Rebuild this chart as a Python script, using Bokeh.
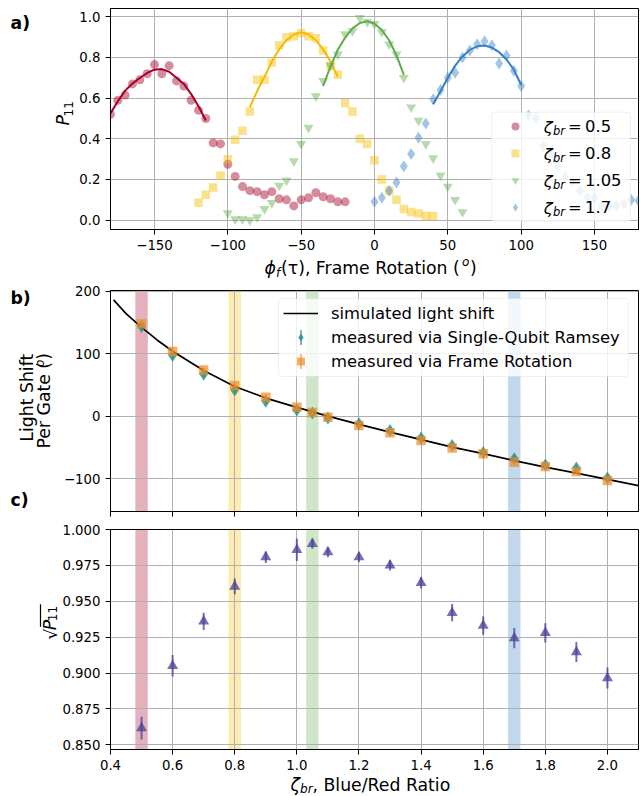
from math import pi

from bokeh.plotting import figure
from bokeh.layouts import column, row
from bokeh.models import (ColumnDataSource, Range1d, FixedTicker, NumeralTickFormatter,
                          Label, BoxAnnotation, Legend, LegendItem)
from bokeh.core.properties import value
from bokeh.embed import file_html
from bokeh.resources import INLINE

FONT = "DejaVu Sans"
RED, YELLOW, GREEN, BLUE = "#a50026", "#f4bc00", "#5fad4a", "#3580c4"
TEAL, ORANGE, SLATE = "#21908c", "#ef8a24", "#4a3f9b"

# ---------------- (a) P11 versus frame rotation ----------------
red_phi = [-180, -175, -170, -165, -160, -155, -150, -145, -140, -135, -130, -125, -120,
           -115, -110, -105, -100, -95, -90, -85, -80, -75, -70, -65, -60, -55, -50,
           -45, -40, -35, -30, -25, -20]
red_p = [0.52, 0.59, 0.615, 0.67, 0.69, 0.72, 0.765, 0.72, 0.76, 0.685, 0.66, 0.59, 0.54,
         0.50, 0.38, 0.375, 0.275, 0.215, 0.165, 0.145, 0.14, 0.125, 0.14, 0.105, 0.10,
         0.07, 0.10, 0.11, 0.135, 0.115, 0.105, 0.09, 0.09]

yellow_phi = [-120, -115, -110, -105, -100, -95, -90, -85, -80, -75, -70, -65, -60, -55,
              -50, -45, -40, -35, -30, -25, -20, -15, -10, -5, 0, 5, 10, 15, 20, 25, 30,
              35, 40]
yellow_p = [0.085, 0.125, 0.16, 0.22, 0.30, 0.395, 0.44, 0.535, 0.69, 0.69, 0.775, 0.86,
            0.90, 0.905, 0.92, 0.905, 0.895, 0.835, 0.76, 0.715, 0.575, 0.535, 0.40, 0.375,
            0.295, 0.20, 0.145, 0.10, 0.055, 0.04, 0.033, 0.02, 0.02]

green_phi = [-100, -95, -90, -85, -80, -75, -70, -65, -60, -55, -50, -45, -40, -35, -30,
             -25, -20, -15, -10, -5, 0, 5, 10, 15, 20, 25, 30, 35, 40, 45, 50, 55, 60]
green_p = [0.035, 0.005, 0.005, 0.0, 0.015, 0.055, 0.085, 0.17, 0.195, 0.29, 0.375, 0.455,
           0.61, 0.685, 0.76, 0.815, 0.915, 0.93, 0.995, 0.975, 0.965, 0.925, 0.865, 0.815,
           0.70, 0.555, 0.49, 0.375, 0.305, 0.22, 0.165, 0.10, 0.04]

blue_phi = [0, 5, 10, 15, 20, 25, 30, 35, 40, 45, 50, 55, 60, 65, 70, 75, 80, 85, 90, 95,
            100, 105, 110, 115, 120, 125, 130, 135, 140, 145, 150, 155, 160, 165, 170, 175,
            180]
blue_p = [0.09, 0.11, 0.145, 0.185, 0.265, 0.325, 0.405, 0.475, 0.595, 0.64, 0.70, 0.725,
          0.80, 0.835, 0.865, 0.88, 0.86, 0.77, 0.81, 0.735, 0.66, 0.515, 0.50, 0.365, 0.33,
          0.265, 0.215, 0.19, 0.145, 0.11, 0.11, 0.07, 0.07, 0.07, 0.08, 0.10, 0.095]

# fitted peaks around each maximum
red_fit_phi = [-180, -175, -170, -165, -160, -155, -150, -145, -140, -135, -130, -125, -120, -115]
red_fit_p = [0.525, 0.585, 0.637, 0.672, 0.699, 0.724, 0.740, 0.743, 0.73, 0.70, 0.67, 0.62,
             0.56, 0.49]
yellow_fit_phi = [-85, -80, -75, -70, -65, -60, -55, -50, -45, -40, -35, -30, -25]
yellow_fit_p = [0.555, 0.635, 0.705, 0.78, 0.84, 0.885, 0.913, 0.924, 0.913, 0.885, 0.84,
                0.78, 0.705]
green_fit_phi = [-35, -30, -25, -20, -15, -10, -5, 0, 5, 10, 15, 20]
green_fit_p = [0.66, 0.756, 0.838, 0.898, 0.943, 0.970, 0.978, 0.966, 0.935, 0.885, 0.81, 0.715]
blue_fit_phi = [40, 45, 50, 55, 60, 65, 70, 75, 80, 85, 90, 95, 100]
blue_fit_p = [0.57, 0.634, 0.70, 0.76, 0.805, 0.837, 0.855, 0.859, 0.849, 0.826, 0.79, 0.74,
              0.665]

series_labels = ["0.5", "0.8", "1.05", "1.7"]

# ---------------- (b) light shift per gate ----------------
ratio = [0.5, 0.6, 0.7, 0.8, 0.9, 1.0, 1.05, 1.1, 1.2, 1.3, 1.4, 1.5, 1.6, 1.7, 1.8, 1.9, 2.0]
ramsey_shift = [143.5, 97, 67, 42, 24, 10, 5, -3, -12, -23, -35, -47, -58, -68, -78, -83, -99]
ramsey_err = [6, 5, 5, 5, 5, 5, 5, 5, 6, 5, 5, 5, 5, 6, 5, 5, 6]
frame_shift = [148, 103.5, 74, 49, 30.5, 14.5, 6, -1.5, -15, -26.5, -39, -51, -60, -73.5,
               -80.5, -88.5, -103]
frame_err = [5, 4, 4, 4, 4, 4, 4, 4, 4, 4, 4, 4, 4, 4, 4, 4, 4]

sim_ratio = [0.41, 0.45, 0.5, 0.55, 0.6, 0.7, 0.8, 0.9, 1.0, 1.1, 1.2, 1.3, 1.4, 1.5, 1.6,
             1.7, 1.8, 1.9, 2.0, 2.1]
sim_shift = [186, 164, 142, 122, 104, 73, 47.5, 29, 14, 0, -13, -25.5, -37.5, -49.5, -60,
             -71, -81.5, -91, -101, -111]

# ---------------- (c) sqrt(P11) fidelity ----------------
sqrt_p11 = [0.8616, 0.905, 0.936, 0.9603, 0.9807, 0.9859, 0.990, 0.9842, 0.9807, 0.975,
            0.9629, 0.942, 0.9331, 0.9243, 0.928, 0.9146, 0.8965]
sqrt_err = [0.0079, 0.0075, 0.006, 0.0055, 0.004, 0.0078, 0.0035, 0.0035, 0.0035, 0.0035,
            0.004, 0.006, 0.0064, 0.007, 0.0067, 0.007, 0.0073]

# highlighted ratios (same colours as panel a)
band_ratio = [0.5, 0.8, 1.05, 1.7]
band_color = [RED, YELLOW, GREEN, BLUE]
BAND_HALF = 0.02


def make_fig(left, frame_h, top, bottom, xr, yr, xticks, yticks):
    p = figure(frame_width=528, frame_height=frame_h, min_border_left=left,
               min_border_right=6, min_border_top=top, min_border_bottom=bottom,
               x_range=xr, y_range=yr, toolbar_location=None, output_backend="svg",
               title=None)
    p.outline_line_color = "black"
    p.outline_line_width = 1
    p.outline_line_alpha = 1
    p.background_fill_color = "white"
    p.border_fill_color = "white"
    p.xaxis.ticker = FixedTicker(ticks=xticks, minor_ticks=[])
    p.yaxis.ticker = FixedTicker(ticks=yticks, minor_ticks=[])
    for ax in p.axis:
        ax.major_tick_in = 0
        ax.major_tick_out = 5
        ax.minor_tick_in = 0
        ax.minor_tick_out = 0
        ax.axis_line_color = "black"
        ax.major_tick_line_color = "black"
        ax.major_label_text_font = FONT
        ax.major_label_text_font_size = "13.3px"
        ax.major_label_text_color = "black"
        ax.major_label_standoff = 5
    p.grid.grid_line_color = "#b0b0b0"
    p.grid.grid_line_width = 1
    return p


def text_canvas(x0, y0, w, h):
    """A bare canvas whose data coordinates are page pixels (y downwards)."""
    t = figure(width=w, height=h, min_border=0, min_border_left=0, min_border_right=0,
               min_border_top=0, min_border_bottom=0, x_range=Range1d(x0, x0 + w),
               y_range=Range1d(y0 + h, y0), x_axis_type=None, y_axis_type=None,
               toolbar_location=None, output_backend="svg", title=None)
    t.outline_line_color = None
    t.background_fill_color = "white"
    t.border_fill_color = "white"
    return t


# Text pieces are anchored at the vertical middle of their glyphs.
def put(p, X, Y, s, size, style="normal", angle=0.0, align="left"):
    p.add_layout(Label(x=X, y=Y, text=s, text_font=FONT, text_font_size=f"{size}px",
                       text_font_style=style, text_color="black", angle=angle,
                       text_align=align, text_baseline="alphabetic"))


def put_screen(p, frame, X, Y, s, size, style="normal"):
    left, bottom = frame
    p.add_layout(Label(x=X - left, y=bottom - Y, x_units="screen", y_units="screen",
                       text=s, text_font=FONT, text_font_size=f"{size}px",
                       text_font_style=style, text_color="black",
                       text_baseline="alphabetic", level="overlay"))


def screen_box(p, frame, l, r, t, b, **kw):
    left, bottom = frame
    p.add_layout(BoxAnnotation(left=l - left, right=r - left, top=bottom - t,
                               bottom=bottom - b, left_units="screen", right_units="screen",
                               top_units="screen", bottom_units="screen", **kw))


def bands(p):
    for r, c in zip(band_ratio, band_color):
        p.add_layout(BoxAnnotation(left=r - BAND_HALF, right=r + BAND_HALF, fill_color=c,
                                   fill_alpha=0.3, line_alpha=0, level="image"))


LBL = 17.3   # axis label size
SUB = 12.1   # sub/superscript size

# ================= panel a =================
FA = (110, 229)
pa = make_fig(34, 221, 8, 27, Range1d(-180, 180), Range1d(-0.046, 1.041),
              [-150, -100, -50, 0, 50, 100, 150], [0, 0.2, 0.4, 0.6, 0.8, 1.0])
pa.xaxis.major_label_overrides = {-150: "\u2212150", -100: "\u2212100", -50: "\u221250"}
pa.yaxis.formatter = NumeralTickFormatter(format="0.0")

scatter_renderers = []
for phi, pv, fphi, fp, color, marker, size in [
        (red_phi, red_p, red_fit_phi, red_fit_p, RED, "circle", 9),
        (yellow_phi, yellow_p, yellow_fit_phi, yellow_fit_p, YELLOW, "square", 8.5),
        (green_phi, green_p, green_fit_phi, green_fit_p, GREEN, "inverted_triangle", 10),
        (blue_phi, blue_p, blue_fit_phi, blue_fit_p, BLUE, "diamond", 12)]:
    src = ColumnDataSource(dict(phi=phi, p=pv))
    r = pa.scatter("phi", "p", source=src, marker=marker, size=size, fill_color=color,
                   fill_alpha=0.45, line_color=None)
    scatter_renderers.append(r)
    pa.line(fphi, fp, line_color=color, line_width=2)

# legend frame, then keys/labels, then the zeta_br prefix on top
screen_box(pa, FA, 491, 630, 111.7, 220.7, fill_color="white", fill_alpha=0.8,
           line_color="#cccccc", line_width=1, border_radius=3, level="annotation")
leg_a = Legend(items=[LegendItem(label=value("=\u2009" + lab), renderers=[r])
                      for lab, r in zip(series_labels, scatter_renderers)],
               location=(381, 8), margin=0, padding=4, spacing=7, glyph_width=40,
               glyph_height=20, label_height=20, label_width=58, label_standoff=33,
               background_fill_alpha=0, border_line_alpha=0, label_text_font=FONT,
               label_text_font_size="16.4px", label_text_color="black")
pa.add_layout(leg_a)
for i in range(len(series_labels)):
    mid = 111.7 + 4 + 10 + 27 * i
    put_screen(pa, FA, 543.3, mid + 1, "\u03b6", 16.4, "italic")
    put_screen(pa, FA, 552.4, mid + 5, "br", 11.5, "italic")

# side text: panel tag and y label
ta = text_canvas(0, 0, 76, 256)
put(ta, 10, 17, "a)", LBL, "bold")
put(ta, 62.3, 135.5, "P", LBL, "italic", pi / 2)
put(ta, 67.8, 125.0, "11", SUB, "normal", pi / 2)

# x label under panel a
tax = text_canvas(0, 256, 644, 29)
XA = 267
put(tax, 264, XA, "\u03d5", LBL, "italic")
put(tax, 275.5, XA + 5.4, "f", SUB, "italic")
put(tax, 280.5, XA, "(\u03c4), Frame Rotation (", LBL)
put(tax, 461.5, XA - 5.2, "o", SUB, "italic")
put(tax, 469.6, XA, ")", LBL)

# ================= panel b =================
FB = (110, 511)
pb = make_fig(50, 221, 5, 12, Range1d(0.4, 2.1), Range1d(-152.5, 201.1),
              [0.4, 0.6, 0.8, 1.0, 1.2, 1.4, 1.6, 1.8, 2.0], [-100, 0, 100, 200])
pb.yaxis.major_label_overrides = {-100: "\u2212100"}
pb.xaxis.major_label_text_font_size = "1px"
pb.xaxis.major_label_text_color = None
pb.xaxis.major_label_standoff = 0
bands(pb)

sim_src = ColumnDataSource(dict(r=sim_ratio, s=sim_shift))
r_sim = pb.line("r", "s", source=sim_src, line_color="black", line_width=1.7)

ram_src = ColumnDataSource(dict(r=ratio, s=ramsey_shift,
                                lo=[v - e for v, e in zip(ramsey_shift, ramsey_err)],
                                hi=[v + e for v, e in zip(ramsey_shift, ramsey_err)]))
pb.segment(x0="r", y0="lo", x1="r", y1="hi", source=ram_src, line_color=TEAL,
           line_alpha=0.8, line_width=1.6)
r_ram = pb.scatter("r", "s", source=ram_src, marker="diamond", size=13, fill_color=TEAL,
                   fill_alpha=0.8, line_color=None)

fr_src = ColumnDataSource(dict(r=ratio, s=frame_shift,
                               lo=[v - e for v, e in zip(frame_shift, frame_err)],
                               hi=[v + e for v, e in zip(frame_shift, frame_err)]))
pb.segment(x0="r", y0="lo", x1="r", y1="hi", source=fr_src, line_color=ORANGE,
           line_alpha=0.7, line_width=1.6)
r_fr = pb.scatter("r", "s", source=fr_src, marker="square", size=9.5, fill_color=ORANGE,
                  fill_alpha=0.7, line_color=None)

screen_box(pb, FB, 278, 628, 298, 376, fill_color="white", fill_alpha=0.8,
           line_color="#cccccc", line_width=1, border_radius=3, level="annotation")
leg_b = Legend(items=[LegendItem(label=value("simulated light shift"), renderers=[r_sim]),
                      LegendItem(label=value("measured via Single-Qubit Ramsey"), renderers=[r_ram]),
                      LegendItem(label=value("measured via Frame Rotation"), renderers=[r_fr])],
               location=(168, 135), margin=0, padding=5, spacing=4, glyph_width=35,
               glyph_height=20, label_height=20, label_standoff=13,
               background_fill_alpha=0, border_line_alpha=0,
               label_text_font=FONT, label_text_font_size="16.4px",
               label_text_color="black")
pb.add_layout(leg_b)
# vertical error-bar strokes on the legend keys
for row_y, color, alpha in [(337, TEAL, 0.8), (361, ORANGE, 0.7)]:
    screen_box(pb, FB, 300.5 - 0.8, 300.5 + 0.8, row_y - 7.5, row_y + 7.5,
               fill_color=color, fill_alpha=alpha, line_alpha=0, level="overlay")

tb = text_canvas(0, 285, 60, 238)
put(tb, 10, 293, "b)", LBL, "bold")
put(tb, 10, 511, "c)", LBL, "bold")
put(tb, 26.6, 400.5, "Light Shift", LBL, "normal", pi / 2, "center")
PB0 = 455.2
put(tb, 43.5, PB0, "Per Gate (", LBL, "normal", pi / 2)
put(tb, 39.3, PB0 - 87.8, "o", SUB, "italic", pi / 2)
put(tb, 43.5, PB0 - 95.6, ")", LBL, "normal", pi / 2)

# ================= panel c =================
pc = make_fig(51, 220, 6, 26, Range1d(0.4, 2.1), Range1d(0.8467, 1.0),
              [0.4, 0.6, 0.8, 1.0, 1.2, 1.4, 1.6, 1.8, 2.0],
              [0.85, 0.875, 0.9, 0.925, 0.95, 0.975, 1.0])
pc.xaxis.formatter = NumeralTickFormatter(format="0.0")
pc.yaxis.formatter = NumeralTickFormatter(format="0.000")
bands(pc)

fid_src = ColumnDataSource(dict(r=ratio, f=sqrt_p11,
                                lo=[v - e for v, e in zip(sqrt_p11, sqrt_err)],
                                hi=[v + e for v, e in zip(sqrt_p11, sqrt_err)]))
pc.segment(x0="r", y0="lo", x1="r", y1="hi", source=fid_src, line_color=SLATE,
           line_alpha=0.75, line_width=2)
pc.scatter("r", "f", source=fid_src, marker="triangle", size=11, fill_color=SLATE,
           fill_alpha=0.75, line_color=None)

tc = text_canvas(0, 523, 59, 252)
put(tc, 50, 649.4, "\u221a", LBL, "normal", pi / 2)
put(tc, 49, 638.4, "P", LBL, "italic", pi / 2)
put(tc, 51.8, 628, "11", SUB, "normal", pi / 2)
tc.add_layout(BoxAnnotation(left=39.4, right=40.6, top=608.6, bottom=634.4,
                            fill_color="black", fill_alpha=1, line_alpha=0))

tcx = text_canvas(0, 775, 644, 21)
XC = 784
put(tcx, 290, XC, "\u03b6", LBL, "italic")
put(tcx, 299.6, XC + 4.5, "br", SUB, "italic")
put(tcx, 312, XC, ", Blue/Red Ratio", LBL)

layout = column(row(ta, pa, spacing=0), tax,
                row(tb, pb, spacing=0),
                row(tc, pc, spacing=0), tcx, spacing=0)
open("out.html", "w").write(file_html(layout, INLINE))
